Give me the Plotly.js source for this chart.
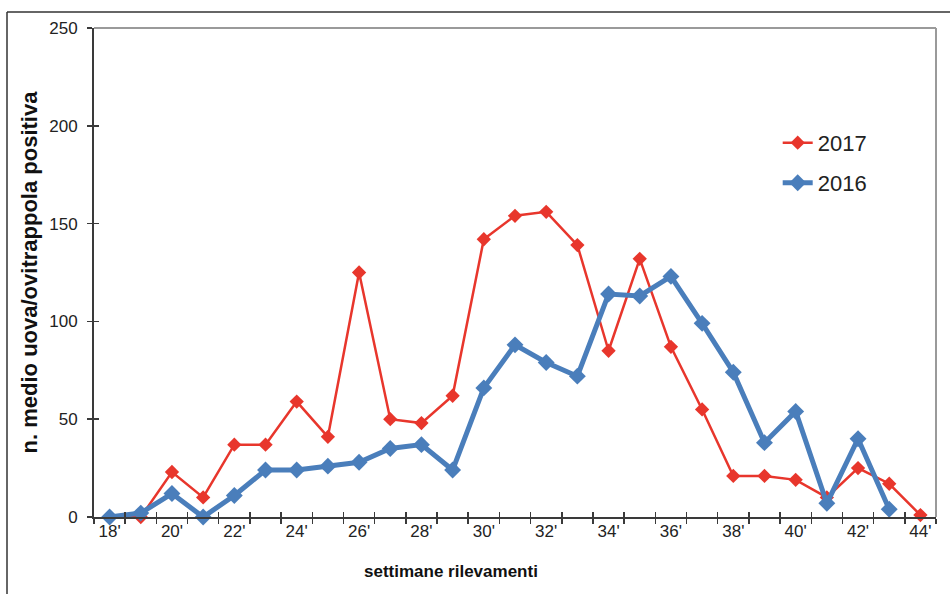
<!DOCTYPE html>
<html>
<head>
<meta charset="utf-8">
<script src="https://cdn.plot.ly/plotly-3.0.1.min.js"></script>
<style>
html,body{margin:0;padding:0;background:#fff;}
#chart{width:950px;height:594px;}
</style>
</head>
<body>
<div id="chart"></div>
<script>
// Weeks (settimane) 18..44
const weeks = [18,19,20,21,22,23,24,25,26,27,28,29,30,31,32,33,34,35,36,37,38,39,40,41,42,43,44];
// 2017 series (mean eggs per positive ovitrap)
const values2017 = [0,0,23,10,37,37,59,41,125,50,48,62,142,154,156,139,85,132,87,55,21,21,19,10,25,17,1];
// 2016 series
const values2016 = [0,2,12,0,11,24,24,26,28,35,37,24,66,88,79,72,114,113,123,99,74,38,54,7,40,4,null];
// Tick labels on x axis
const xTickVals = [18,20,22,24,26,28,30,32,34,36,38,40,42,44];
const xTickText = ["18'","20'","22'","24'","26'","28'","30'","32'","34'","36'","38'","40'","42'","44'"];
const yTickVals = [0,50,100,150,200,250];
const seriesNames = ["2017","2016"];
const yTitle = "n. medio uova/ovitrappola positiva";
const xTitle = "settimane rilevamenti";

const red = "#E8362C";
const blue = "#4A7EBB";
const axisCol = "#3a3a3a";
const tickFont = {family: "Liberation Sans, Arial, sans-serif", size: 17, color: "#222"};

const traces = [
  {
    x: weeks, y: values2017, name: seriesNames[0], type: "scatter", mode: "lines+markers",
    line: {color: red, width: 2.5},
    marker: {symbol: "diamond", size: 11, color: red},
    legend: "legend", cliponaxis: false
  },
  {
    x: weeks, y: values2016, name: seriesNames[1], type: "scatter", mode: "lines+markers",
    line: {color: blue, width: 5},
    marker: {symbol: "diamond", size: 13, color: blue},
    legend: "legend2", cliponaxis: false
  },
  // empty helper traces so the overlay axes (inside half of the crossing ticks) are drawn
  {x: [], y: [], xaxis: "x2", yaxis: "y", showlegend: false, hoverinfo: "skip"},
  {x: [], y: [], xaxis: "x", yaxis: "y2", showlegend: false, hoverinfo: "skip"}
];

const xRange = [17.5, 44.5];
const yRange = [0, 250];

const layout = {
  width: 950, height: 594,
  margin: {l: 94, r: 14, t: 28, b: 77},
  paper_bgcolor: "#fff", plot_bgcolor: "#fff",
  showlegend: true,
  xaxis: {
    range: xRange, tickmode: "array", tickvals: xTickVals, ticktext: xTickText,
    ticks: "", showgrid: false, zeroline: false,
    showline: true, linecolor: axisCol, linewidth: 2,
    tickfont: tickFont, ticklabelstandoff: -2,
    minor: {tickmode: "linear", tick0: 17.5, dtick: 1, ticks: "outside", ticklen: 5, tickwidth: 1.5, tickcolor: axisCol, showgrid: false},
    fixedrange: true
  },
  xaxis2: {
    overlaying: "x", anchor: "y", side: "bottom", range: xRange,
    tickmode: "linear", tick0: 17.5, dtick: 1, ticks: "inside", ticklen: 5, tickwidth: 1.5, tickcolor: axisCol,
    showticklabels: false, showgrid: false, zeroline: false, showline: false, fixedrange: true
  },
  yaxis: {
    range: yRange, tickmode: "array", tickvals: yTickVals,
    ticks: "outside", ticklen: 5, tickwidth: 1.5, tickcolor: axisCol,
    showgrid: false, zeroline: false, showline: true, linecolor: axisCol, linewidth: 2,
    tickfont: tickFont, ticklabelstandoff: 6,
    title: {text: yTitle, font: {family: "Liberation Sans, Arial, sans-serif", size: 22, color: "#111", weight: "bold"}, standoff: 6},
    fixedrange: true
  },
  yaxis2: {
    overlaying: "y", anchor: "x", side: "left", range: yRange,
    tickmode: "array", tickvals: yTickVals, ticks: "inside", ticklen: 5, tickwidth: 1.5, tickcolor: axisCol,
    showticklabels: false, showgrid: false, zeroline: false, showline: false, fixedrange: true
  },
  legend: {
    x: 0.812, y: 0.765, xanchor: "left", yanchor: "middle",
    bgcolor: "rgba(0,0,0,0)", borderwidth: 0,
    font: {family: "Liberation Sans Narrow, Liberation Sans, Arial, sans-serif", size: 22, color: "#222"}
  },
  legend2: {
    x: 0.812, y: 0.683, xanchor: "left", yanchor: "middle",
    bgcolor: "rgba(0,0,0,0)", borderwidth: 0,
    font: {family: "Liberation Sans Narrow, Liberation Sans, Arial, sans-serif", size: 22, color: "#222"}
  },
  annotations: [
    {text: xTitle, xref: "paper", yref: "paper", x: (451 - 94) / 842, y: -(571 - 517) / 489,
     xanchor: "center", yanchor: "middle", showarrow: false,
     font: {family: "Liberation Sans, Arial, sans-serif", size: 17, color: "#111", weight: "bold"}}
  ],
  shapes: [
    // gray plot-area border on top and right
    {type: "line", xref: "paper", yref: "paper", x0: 0, x1: 1, y0: 1, y1: 1, line: {color: "#9a9a9a", width: 2}, layer: "below"},
    {type: "line", xref: "paper", yref: "paper", x0: 1, x1: 1, y0: 0, y1: 1, line: {color: "#9a9a9a", width: 2}, layer: "below"},
    // outer frame of the figure
    {type: "line", xref: "paper", yref: "paper", x0: -87 / 842, x1: 1.1, y0: (517 - 12) / 489, y1: (517 - 12) / 489, line: {color: "#333", width: 1.5}},
    {type: "line", xref: "paper", yref: "paper", x0: -87 / 842, x1: -87 / 842, y0: (517 - 12) / 489, y1: -0.2, line: {color: "#333", width: 1.5}}
  ]
};

Plotly.newPlot("chart", traces, layout, {staticPlot: true, displayModeBar: false});
</script>
</body>
</html>
